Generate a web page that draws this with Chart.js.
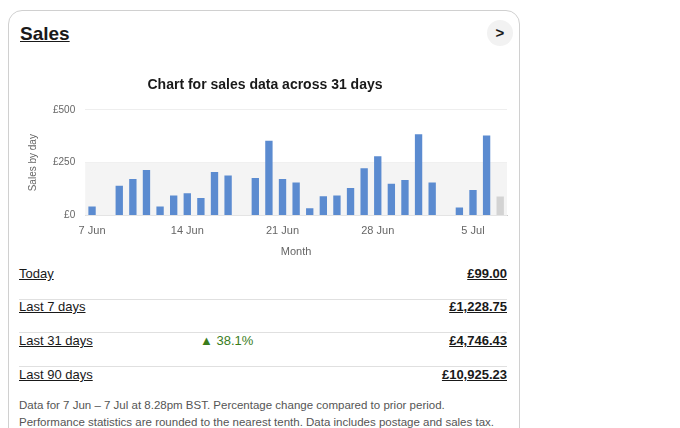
<!DOCTYPE html>
<html><head><meta charset="utf-8">
<script src="https://cdn.jsdelivr.net/npm/chart.js@4"></script>
<style>
body{margin:0;background:#fff;font-family:Arial,"Liberation Sans",sans-serif;color:#191919}
.card{position:absolute;left:8px;top:10px;width:510px;height:440px;border:1px solid #d0d0d0;border-radius:14px}
h2{position:absolute;left:11px;top:12px;margin:0;font-size:19px;font-weight:bold;text-decoration:underline}
.chev{position:absolute;left:478px;top:9px;width:26px;height:26px;border-radius:13px;background:#f2f2f2;font-size:15px;text-align:center;line-height:26px;font-weight:bold}
#wrap{position:absolute;left:10px;top:60px;width:492px;height:192px}
.row{position:absolute;left:10px;width:488px;height:33px;border-bottom:1px solid #e0e0e0;font-size:13px}
.row .l{position:absolute;left:0;top:0;text-decoration:underline}
.row .r{position:absolute;right:0;top:0;font-weight:bold;text-decoration:underline}
.row .c{position:absolute;left:181px;top:0;color:#3a7d1c}
.note{position:absolute;left:10px;top:386px;font-size:11.5px;color:#555;line-height:17px;width:500px}
</style></head><body>
<div class="card">
<h2>Sales</h2><div class="chev">&gt;</div>
<div id="wrap"><canvas id="c"></canvas></div>
<div class="row" style="top:255px"><span class="l">Today</span><span class="r">£99.00</span></div>
<div class="row" style="top:288px"><span class="l">Last 7 days</span><span class="r">£1,228.75</span></div>
<div class="row" style="top:322px"><span class="l">Last 31 days</span><span class="c">&#9650; 38.1%</span><span class="r">£4,746.43</span></div>
<div class="row" style="top:356px;border:none"><span class="l">Last 90 days</span><span class="r">£10,925.23</span></div>
<div class="note">Data for 7 Jun – 7 Jul at 8.28pm BST. Percentage change compared to prior period.<br>Performance statistics are rounded to the nearest tenth. Data includes postage and sales tax.</div>
</div>
<script>
const days = ['7 Jun','8 Jun','9 Jun','10 Jun','11 Jun','12 Jun','13 Jun','14 Jun','15 Jun','16 Jun','17 Jun','18 Jun','19 Jun','20 Jun','21 Jun','22 Jun','23 Jun','24 Jun','25 Jun','26 Jun','27 Jun','28 Jun','29 Jun','30 Jun','1 Jul','2 Jul','3 Jul','4 Jul','5 Jul','6 Jul','7 Jul'];
const sales = [43,0,141,173,216,43,95,106,83,206,190,0,178,354,173,156,35,92,95,130,224,281,151,168,384,156,0,38,121,379,90];
const shownTicks = ['7 Jun','14 Jun','21 Jun','28 Jun','5 Jul'];
const yTicks = [0,250,500];

const band = {
  id: 'band',
  beforeDatasetsDraw(chart) {
    const {ctx, chartArea, scales} = chart;
    const y0 = scales.y.getPixelForValue(0), y1 = scales.y.getPixelForValue(250);
    ctx.save(); ctx.fillStyle = '#f4f4f4';
    ctx.fillRect(chartArea.left, y1, chartArea.right - chartArea.left, y0 - y1);
    ctx.restore();
  }
};

new Chart(document.getElementById('c'), {
  type: 'bar',
  data: { labels: days, datasets: [{ data: sales,
    backgroundColor: sales.map((v, i) => i === sales.length - 1 ? '#d3d3d3' : '#5b8bd0'),
    categoryPercentage: 0.9, barPercentage: 0.6 }] },
  options: {
    responsive: true, maintainAspectRatio: false, animation: false,
    layout: { padding: { right: 4, left: 4 } },
    plugins: {
      legend: { display: false }, tooltip: { enabled: false },
      title: { display: true, text: 'Chart for sales data across 31 days', color: '#191919',
        font: { size: 14, weight: 'bold', family: 'Arial' }, padding: { top: 6, bottom: 16 } }
    },
    scales: {
      x: { grid: { display: false }, border: { color: '#ccc' },
        title: { display: true, text: 'Month', color: '#666', font: { size: 11 }, padding: { top: 7 } },
        ticks: { autoSkip: false, maxRotation: 0, color: '#666', font: { size: 11 }, padding: 1,
          callback: (v, i) => shownTicks.includes(days[i]) ? days[i] : '' } },
      y: { min: 0, max: 500, afterBuildTicks: s => { s.ticks = yTicks.map(v => ({ value: v })); },
        grid: { color: '#eee', drawTicks: false }, border: { display: false },
        title: { display: true, text: 'Sales by day', color: '#666', font: { size: 10 } },
        ticks: { color: '#666', font: { size: 10 }, padding: 10, callback: v => '£' + v } }
    }
  },
  plugins: [band]
});
</script>
</body></html>
